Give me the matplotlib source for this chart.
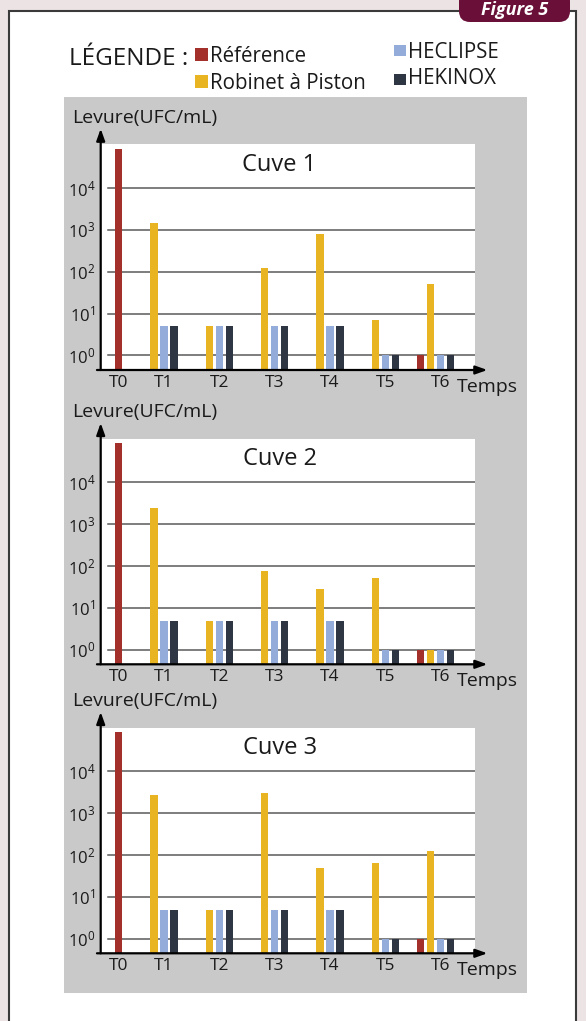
import numpy as np
import matplotlib
matplotlib.use('Agg')
from matplotlib import pyplot as plt
from matplotlib.patches import Rectangle, FancyBboxPatch

plt.rcParams['font.family'] = ['Open Sans', 'DejaVu Sans']
plt.rcParams['mathtext.default'] = 'regular'

# data (values read off the log scale, nan = no bar)
categories = ['T0', 'T1', 'T2', 'T3', 'T4', 'T5', 'T6']
series_names = ['Référence', 'Robinet à Piston', 'HECLIPSE', 'HEKINOX']
nan = np.nan

cuve1_reference = [88000, nan, nan, nan, nan, nan, 1]
cuve1_robinet = [nan, 1500, 5, 120, 800, 7, 50]
cuve1_heclipse = [nan, 5, 5, 5, 5, 1, 1]
cuve1_hekinox = [nan, 5, 5, 5, 5, 1, 1]

cuve2_reference = [86000, nan, nan, nan, nan, nan, 1]
cuve2_robinet = [nan, 2500, 5, 75, 28, 52, 1]
cuve2_heclipse = [nan, 5, 5, 5, 5, 1, 1]
cuve2_hekinox = [nan, 5, 5, 5, 5, 1, 1]

cuve3_reference = [88000, nan, nan, nan, nan, nan, 1]
cuve3_robinet = [nan, 2700, 5, 3000, 50, 63, 126]
cuve3_heclipse = [nan, 5, 5, 5, 5, 1, 1]
cuve3_hekinox = [nan, 5, 5, 5, 5, 1, 1]

panels = [
    ('Cuve 1', [cuve1_reference, cuve1_robinet, cuve1_heclipse, cuve1_hekinox]),
    ('Cuve 2', [cuve2_reference, cuve2_robinet, cuve2_heclipse, cuve2_hekinox]),
    ('Cuve 3', [cuve3_reference, cuve3_robinet, cuve3_heclipse, cuve3_hekinox]),
]

colors = ['#a3302a', '#e8b422', '#93acd9', '#2e3644']
txt = '#1a1a1a'
W, H = 586, 1021

fig = plt.figure(figsize=(W / 100, H / 100), dpi=100)
fig.patch.set_facecolor('#ebe3e4')

# background layer in pixel units
bg = fig.add_axes([0, 0, 1, 1])
bg.set_xlim(0, W)
bg.set_ylim(H, 0)
bg.axis('off')
bg.add_patch(Rectangle((9, 11), 567, 1030, facecolor='white', edgecolor='#3a3a3a', lw=1.5))
bg.add_patch(FancyBboxPatch((459, -10), 111, 32, boxstyle='round,pad=0,rounding_size=11',
                            facecolor='#6a1038', edgecolor='none'))
bg.text(515, 10, 'Figure 5', color='white', fontsize=13, fontweight='bold', style='italic',
        ha='center', va='center')
bg.add_patch(Rectangle((64, 97), 463, 896, facecolor='#c9c9c9', edgecolor='none'))

# legend
bg.text(69, 65, 'LÉGENDE :', fontsize=17.5, ha='left', va='baseline', color=txt)
legend_sq = [(195, 48, 13), (195, 75.5, 13), (394, 45, 11.5), (394, 74, 11.5)]
legend_base = [62.3, 89.3, 57.7, 84.3]
for (lx, ly, s), base, name, c in zip(legend_sq, legend_base, series_names, colors):
    bg.add_patch(Rectangle((lx, ly), s, s, facecolor=c, edgecolor='none'))
    bg.text(lx + s + 2, base, name, fontsize=14.8, ha='left', va='baseline', color=txt)

# layout of the bar groups
xpos = [0.17, 1, 2, 3, 4, 5, 6]
offsets = [-0.36, -0.18, 0, 0.18]
bar_w = 0.13
ylo, yhi = 0.45, 1.1e5

axes_bottoms = [370, 664.3, 953.3]
ax_left, ax_right, ax_h = 100.7, 475, 225.5

for (title, data), bpx in zip(panels, axes_bottoms):
    ax = fig.add_axes([ax_left / W, 1 - bpx / H, (ax_right - ax_left) / W, ax_h / H])
    ax.set_facecolor('white')
    ax.set_yscale('log')
    ax.set_ylim(ylo, yhi)
    ax.set_xlim(-0.145, 6.62)
    for s in ax.spines.values():
        s.set_visible(False)

    for v in [1, 10, 100, 1000, 10000]:
        ax.axhline(v, xmin=0.019, xmax=1, color='#5a5a5a', lw=1.1, zorder=1)

    for i, vals in enumerate(data):
        for j, v in enumerate(vals):
            if np.isnan(v):
                continue
            x = xpos[j] + (offsets[i] if j > 0 else 0)
            ax.bar(x, v - ylo, width=bar_w, bottom=ylo, color=colors[i], zorder=2)

    ax.set_yticks([1, 10, 100, 1000, 10000])
    ax.set_yticklabels([r'$10^{%d}$' % k for k in range(5)])
    ax.yaxis.set_minor_locator(matplotlib.ticker.NullLocator())
    ax.set_xticks(xpos)
    ax.set_xticklabels(categories)
    ax.tick_params(axis='y', length=0, pad=4, labelsize=12, labelcolor=txt)
    ax.tick_params(axis='x', length=0, pad=3.5, labelsize=12.5, labelcolor=txt)

    # axis arrows
    ax.annotate('', xy=(0, 1.07), xytext=(0, 0), xycoords='axes fraction',
                arrowprops=dict(arrowstyle='-|>,head_length=0.7,head_width=0.25',
                                color='black', lw=1.6, shrinkA=0, shrinkB=0),
                annotation_clip=False)
    ax.annotate('', xy=(1.033, 0), xytext=(-0.01, 0), xycoords='axes fraction',
                arrowprops=dict(arrowstyle='-|>,head_length=0.7,head_width=0.25',
                                color='black', lw=1.6, shrinkA=0, shrinkB=0),
                annotation_clip=False)

    ax.text(0.478, 0.91, title, transform=ax.transAxes, fontsize=17,
            ha='center', va='center', color=txt)
    ax.text(-0.077, 1.117, 'Levure(UFC/mL)', transform=ax.transAxes, fontsize=14,
            ha='left', va='center', color=txt)
    ax.text(0.952, -0.075, 'Temps', transform=ax.transAxes, fontsize=14,
            ha='left', va='center', color=txt)

fig.savefig('out.png', dpi=100)
